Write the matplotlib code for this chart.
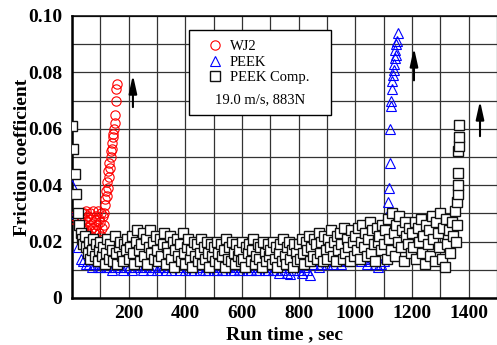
import numpy as np
import matplotlib
matplotlib.use("Agg")
import matplotlib.pyplot as plt
from matplotlib.patches import Rectangle

# friction coefficients are typed in units of 1e-3

# WJ2 (red circles)
wj2_t = [2, 8, 30, 36,
         40, 42, 44, 46, 48, 50, 52, 54, 56, 58, 60, 62, 64, 66, 68, 70, 72, 74, 76, 78,
         80, 82, 84, 86, 88, 90, 92, 94, 96, 98, 100, 102, 104, 106, 108, 110, 112,
         114, 116, 118, 120, 122, 124, 126, 128, 130, 132, 134, 136, 138, 140, 142, 144, 146, 148,
         150, 152, 154, 156, 158]
wj2_mu = [28, 29, 27, 30,
          25, 30, 21, 28, 24, 31, 19, 27, 23, 29, 20, 26, 30, 22, 28, 19, 25, 31, 23, 27,
          18, 24, 29, 21, 26, 31, 20, 28, 23, 19, 27, 30, 22, 25, 29, 21, 26,
          30, 35, 33, 38, 36, 41, 39, 45, 43, 48, 46, 52, 50, 55, 53, 58, 57, 60,
          62, 65, 70, 74, 76]

# PEEK (blue triangles), baseline every 10 s then the jump near 1100 s
peek_t = list(range(0, 1100, 10)) + [1100, 1105, 1110, 1113, 1116, 1119, 1121, 1123, 1125, 1127,
                                      1129, 1131, 1133, 1135, 1137, 1139, 1141, 1143, 1145, 1147, 1149]
peek_mu = [40, 30, 18, 14, 13, 12, 12, 11, 12, 11,
           11, 12, 11, 11, 10, 11, 12, 11, 10, 11,
           11, 10, 11, 12, 11, 10, 11, 11, 10, 11,
           10, 11, 11, 10, 11, 10, 11, 12, 10, 11,
           10, 11, 10, 10, 11, 10, 11, 10, 10, 11,
           10, 10, 11, 10, 10, 11, 10, 10, 11, 10,
           10, 11, 10, 10, 11, 10, 10, 11, 10, 10,
           11, 10, 10, 9, 10, 11, 9, 8.5, 10, 11,
           10, 9, 11, 10, 8, 12, 13, 11, 12, 13,
           12, 13, 12, 14, 13, 12, 14, 13, 15, 14,
           16, 15, 13, 14, 12, 13, 15, 12, 11, 12,
           13, 19, 24, 29, 34, 39, 48, 60, 68, 70,
           77, 74, 79, 83, 81, 85, 88, 86, 90, 91, 94]

# PEEK Comp. (black squares), every 5 s then the jump near 1360 s
comp_t = list(range(0, 1360, 5)) + [1358, 1360, 1361, 1362, 1363, 1364, 1365, 1366, 1367]
comp_mu = [61, 53, 44, 37, 30, 26, 23, 21, 19, 22, 18, 16, 20, 14, 17, 21, 15, 19, 13, 17,
           20, 15, 18, 12, 16, 21, 14, 19, 17, 13, 22, 16, 12, 18, 20, 15, 13, 19, 17, 21,
           14, 18, 22, 16, 12, 20, 24, 17, 13, 19, 23, 15, 21, 12, 18, 24, 16, 20, 14, 22,
           17, 13, 21, 15, 19, 23, 12, 18, 16, 22, 14, 20, 11, 17, 21, 15, 19, 13, 23, 16,
           12, 18, 21, 14, 17, 11, 20, 15, 19, 13, 16, 21, 12, 18, 14, 20, 16, 11, 19, 15,
           18, 13, 20, 16, 12, 19, 15, 17, 11, 21, 14, 18, 13, 20, 16, 12, 19, 15, 17, 13,
           20, 14, 11, 18, 16, 19, 13, 17, 21, 12, 15, 19, 14, 18, 11, 20, 16, 13, 19, 15,
           17, 12, 20, 14, 18, 11, 16, 19, 13, 21, 15, 12, 18, 20, 14, 17, 11, 19, 16, 13,
           19, 14, 21, 16, 12, 20, 17, 22, 13, 18, 15, 21, 19, 14, 23, 16, 20, 13, 22, 17,
           14, 21, 18, 24, 15, 20, 13, 22, 17, 23, 19, 14, 25, 16, 21, 18, 13, 24, 20, 15,
           22, 17, 25, 14, 20, 26, 18, 23, 15, 21, 27, 16, 24, 19, 13, 25, 20, 22, 17, 26,
           19, 24, 14, 28, 21, 17, 30, 23, 15, 26, 20, 29, 18, 24, 13, 27, 22, 19, 25, 16,
           23, 18, 27, 14, 25, 20, 28, 16, 22, 12, 26, 19, 24, 15, 29, 21, 13, 27, 23, 18,
           30, 14, 25, 11, 28, 19, 24, 16, 27, 22, 31, 20,
           26, 34, 37, 40, 44.5, 52, 54, 57, 61.5]

x_ticks = list(range(0, 1501, 100))
x_labels = [str(v) if v % 200 == 0 and v > 0 else "" for v in x_ticks]
y_ticks = [i / 100 for i in range(11)]
y_labels = ["0" if v == 0 else ("%.2f" % v if i % 2 == 0 else "") for i, v in enumerate(y_ticks)]

# arrows: (x, y_start, y_end)
arrows = [(215, 0.0667, 0.0801), (1207, 0.0762, 0.0897), (1440, 0.0564, 0.0709)]

serif = "Liberation Serif"
W, H = 497, 345
fig = plt.figure(figsize=(W / 100, H / 100), dpi=100)
ax = fig.add_axes([72 / W, (H - 298) / H, (W - 72) / W, 282 / H])

ax.plot(peek_t, np.array(peek_mu) / 1000, "^", ms=7, mfc="none", mec="#0000ff", mew=0.8,
        linestyle="none", label="PEEK", zorder=3)
ax.plot(wj2_t, np.array(wj2_mu) / 1000, "o", ms=6.7, mfc="none", mec="#ff0000", mew=0.8,
        linestyle="none", label="WJ2", zorder=4)
ax.plot(comp_t, np.array(comp_mu) / 1000, "s", ms=7, mfc="white", mec="#111111", mew=1.0,
        linestyle="none", label="PEEK Comp.", zorder=5)

for x, y0, y1 in arrows:
    ax.annotate("", xy=(x, y1), xytext=(x, y0),
                arrowprops=dict(arrowstyle="-|>,head_width=0.2,head_length=0.9",
                                color="black", lw=1.5, mutation_scale=12), zorder=6)

ax.set_xlim(0, 1500)
ax.set_ylim(0, 0.10)
ax.set_xticks(x_ticks)
ax.set_xticklabels(x_labels)
ax.set_yticks(y_ticks)
ax.set_yticklabels(y_labels)
ax.tick_params(length=0, labelsize=14)
ax.tick_params(axis="y", pad=7)
ax.tick_params(axis="x", pad=5)
for lab in ax.get_xticklabels() + ax.get_yticklabels():
    lab.set_fontfamily(serif)
    lab.set_fontweight("bold")
ax.grid(True, color="#333333", lw=0.9)
ax.set_axisbelow(True)

ax.spines["left"].set_linewidth(1.8)
ax.spines["bottom"].set_linewidth(1.8)
ax.spines["top"].set_linewidth(1.1)
ax.spines["right"].set_visible(False)

ax.set_xlabel("Run time , sec", fontsize=14, fontweight="bold", fontfamily=serif)
ax.set_ylabel("Friction coefficient", fontsize=14, fontweight="bold", fontfamily=serif)
ax.xaxis.set_label_coords(0.5, -0.10)
ax.yaxis.set_label_coords(-0.097, 0.5)

# legend box with the test condition
ax.add_patch(Rectangle((0.275, 0.649), 0.334, 0.301, transform=ax.transAxes,
                       facecolor="white", edgecolor="black", lw=1.0, zorder=7))
h, l = ax.get_legend_handles_labels()
order = [1, 0, 2]
leg = ax.legend([h[i] for i in order], [l[i] for i in order], loc="upper left",
                bbox_to_anchor=(0.302, 0.94), frameon=False, borderpad=0,
                handlelength=1.0, handletextpad=0.5, labelspacing=0.15,
                prop={"family": serif, "size": 10.5})
leg.set_zorder(8)
ax.text(0.442, 0.702, "19.0 m/s, 883N", transform=ax.transAxes, ha="center", va="center",
        fontsize=10.5, fontfamily=serif, zorder=8)

fig.savefig("out.png", dpi=100)
